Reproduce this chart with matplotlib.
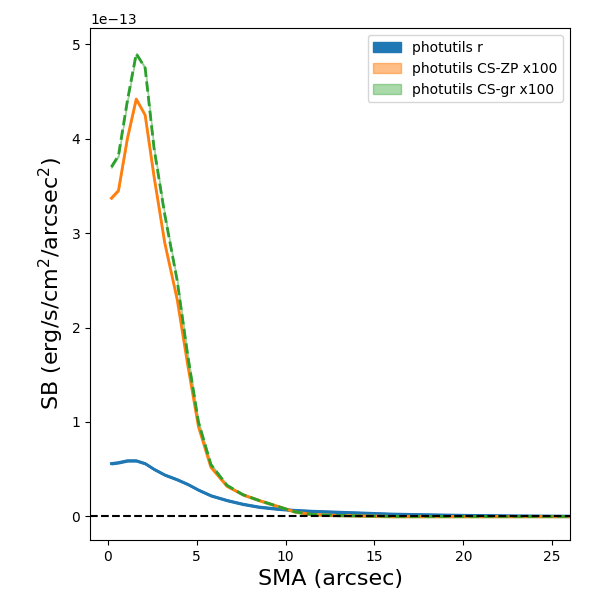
import numpy as np
import matplotlib
matplotlib.use("Agg")
import matplotlib.pyplot as pp

#Surface brightness profiles (units of 1e-13)
sma = [0.2, 0.6, 1.1, 1.6, 2.1, 2.6, 3.2, 3.9, 4.5, 5.1, 5.8, 6.7, 7.6, 8.5, 9.5, 10.5,
       11.5, 13.0, 14.5, 16.0, 18.0, 20.0, 23.0, 26.0]
sb_r = [0.56, 0.57, 0.59, 0.59, 0.56, 0.50, 0.44, 0.39, 0.34, 0.28, 0.22, 0.17, 0.13,
        0.10, 0.08, 0.065, 0.055, 0.045, 0.035, 0.025, 0.018, 0.012, 0.006, 0.003]
sb_zp = [3.37, 3.45, 4.0, 4.42, 4.25, 3.6, 2.9, 2.3, 1.6, 0.95, 0.52, 0.32, 0.23,
         0.17, 0.11, 0.05, 0.02, 0.01, 0.005, 0.0, 0.0, 0.0, 0.0, 0.0]
sb_gr = [3.7, 3.82, 4.4, 4.9, 4.75, 3.9, 3.2, 2.5, 1.7, 1.0, 0.55, 0.33, 0.23,
         0.17, 0.11, 0.05, 0.02, 0.01, 0.005, 0.0, 0.0, 0.0, 0.0, 0.0]

sma = np.array(sma)
r = np.array(sb_r) * 1e-13
zp = np.array(sb_zp) * 1e-13
gr = np.array(sb_gr) * 1e-13
err = 0.008e-13

fig, ax = pp.subplots(figsize=(6, 6), dpi=100)
ax.fill_between(sma, r - err, r + err, color="C0", label="photutils r")
ax.plot(sma, r, color="C0", lw=2)
ax.fill_between(sma, zp - err, zp + err, color="C1", alpha=0.5, label="photutils CS-ZP x100")
ax.plot(sma, zp, color="C1", lw=2)
ax.fill_between(sma, gr - err, gr + err, color="C2", alpha=0.4, label="photutils CS-gr x100")
ax.plot(sma, gr, color="C2", lw=2, ls="--")
ax.axhline(0, color="k", ls="--")
ax.set_xlim(-1, 26)
ax.set_ylim(-0.25e-13, 5.17e-13)
ax.set_xlabel("SMA (arcsec)", fontsize=16)
ax.set_ylabel("SB (erg/s/cm$^2$/arcsec$^2$)", fontsize=16)
ax.legend(loc="upper right")
pp.subplots_adjust(left=0.15, right=0.95, top=0.953, bottom=0.1)
fig.savefig("out.png")
